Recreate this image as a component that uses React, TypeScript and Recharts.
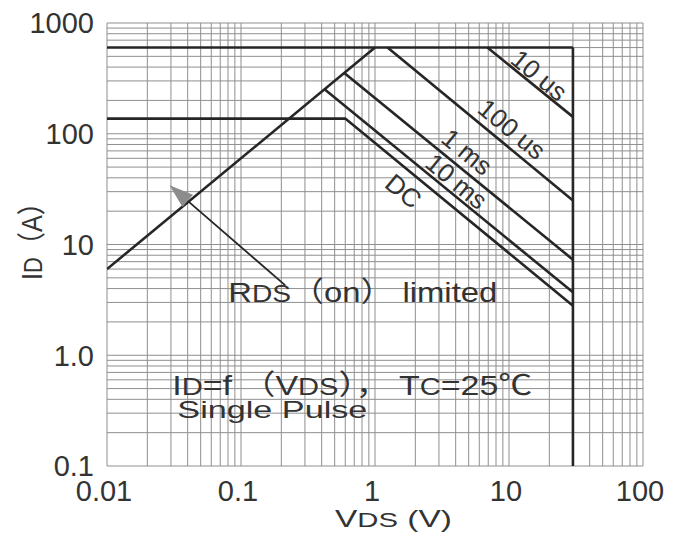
import React from 'react';
import {
  ComposedChart,
  Line,
  XAxis,
  YAxis,
  CartesianGrid,
  ReferenceDot,
  ReferenceLine,
} from 'recharts';

// Safe operating area boundaries: VDS in volts (v), ID in amperes (i)
const rdsOnLimit = [{ v: 0.01, i: 6 }, { v: 1.0, i: 600 }];
const currentLimit = [{ v: 0.01, i: 600 }, { v: 30, i: 600 }];
const voltageLimit = [{ v: 30, i: 600 }, { v: 30, i: 0.1 }];
const pulse10us = [{ v: 6.9, i: 600 }, { v: 30, i: 142 }];
const pulse100us = [{ v: 1.24, i: 600 }, { v: 30, i: 25 }];
const pulse1ms = [{ v: 0.59, i: 354 }, { v: 30, i: 7.3 }];
const pulse10ms = [{ v: 0.42, i: 252 }, { v: 30, i: 3.7 }];
const dcLimit = [{ v: 0.01, i: 137 }, { v: 0.6, i: 137 }, { v: 30, i: 2.8 }];

// Axis decades and their printed labels
const xDecades = [0.01, 0.1, 1, 10, 100];
const xTickLabels = ['0.01', '0.1', '1', '10', '100'];
const yDecades = [0.1, 1, 10, 100, 1000];
const yTickLabels = ['0.1', '1.0', '10', '100', '1000'];
const gridSteps = [1, 2, 3, 4, 5, 6, 7, 8, 9];

// Pulse-width captions placed along each boundary
const curveLabels = [
  { text: '10 us', v: 16.8, i: 337 },
  { text: '100 us', v: 10.5, i: 110 },
  { text: '1 ms', v: 4.86, i: 68.5 },
  { text: '10 ms', v: 4.05, i: 37.2 },
  { text: 'DC', v: 1.63, i: 30.3 },
];

// Pointer from the caption to the RDS(on) limit line
const arrowTail = { v: 0.214, i: 4.28 };
const arrowTip = { v: 0.0293, i: 34.3 };

// Caption anchors (left end of baseline)
const rdsCaptionAt = { v: 0.0804, i: 3.01 };
const conditionsAt = { v: 0.0307, i: 0.435 };
const pulseCaptionAt = { v: 0.0335, i: 0.27 };

const logGrid = (decades: number[]) => {
  const out: number[] = [];
  decades.slice(0, -1).forEach((d) => gridSteps.forEach((s) => out.push(d * s)));
  out.push(decades[decades.length - 1]);
  return out;
};
const xGridTicks = logGrid(xDecades);
const yGridTicks = logGrid(yDecades);

const INK = '#262626';
const TEXT = '#333333';
const FONT = '"Liberation Sans", Arial, "Noto Sans CJK SC", sans-serif';
const SLOPE_ANGLE = 39.6;

const decadeIndex = (decades: number[], value: number) =>
  decades.findIndex((d) => Math.abs(Math.log10(d) - Math.log10(value)) < 1e-6);

const renderXTick = (props: any) => {
  const { x, y, payload } = props;
  const idx = decadeIndex(xDecades, payload.value);
  if (idx < 0) return <g />;
  return (
    <text x={x - 3} y={y} dy="0.72em" textAnchor="middle" fontSize={29} fill={TEXT} fontFamily={FONT}>
      {xTickLabels[idx]}
    </text>
  );
};

const renderYTick = (props: any) => {
  const { x, y, payload } = props;
  const idx = decadeIndex(yDecades, payload.value);
  if (idx < 0) return <g />;
  return (
    <text x={x} y={y} dy="0.36em" textAnchor="end" fontSize={29} fill={TEXT} fontFamily={FONT}>
      {yTickLabels[idx]}
    </text>
  );
};

const renderXTitle = (props: any) => {
  const vb = props.viewBox || { x: 107, y: 466, width: 536, height: 74 };
  return (
    <text
      x={vb.x + 228}
      y={vb.y + 61}
      textLength={117}
      lengthAdjust="spacingAndGlyphs"
      fill={TEXT}
      fontFamily={FONT}
    >
      <tspan fontSize={24}>V</tspan>
      <tspan fontSize={21}>DS</tspan>
      <tspan fontSize={24}> (V)</tspan>
    </text>
  );
};

const renderYTitle = (props: any) => {
  const vb = props.viewBox || { x: 0, y: 23, width: 107, height: 443 };
  const x = vb.x + 41.5;
  const y = vb.y + 212;
  return (
    <text
      x={x}
      y={y}
      transform={`rotate(-90 ${x} ${y})`}
      textAnchor="middle"
      textLength={90}
      lengthAdjust="spacingAndGlyphs"
      fill={TEXT}
      fontFamily={FONT}
    >
      <tspan fontSize={29}>I</tspan>
      <tspan fontSize={25}>D</tspan>
      <tspan fontSize={29}>（A）</tspan>
    </text>
  );
};

const curveLabelShape = (text: string) => (props: any) => {
  const { cx, cy } = props;
  return (
    <text
      x={cx}
      y={cy}
      transform={`rotate(${SLOPE_ANGLE} ${cx} ${cy})`}
      textAnchor="middle"
      dominantBaseline="central"
      fontSize={26}
      fill={TEXT}
      fontFamily={FONT}
    >
      {text}
    </text>
  );
};

const arrowShape = (props: any) => {
  const { x1, y1, x2, y2 } = props;
  const dx = x2 - x1;
  const dy = y2 - y1;
  const len = Math.hypot(dx, dy) || 1;
  const ux = dx / len;
  const uy = dy / len;
  const head = 24;
  const half = 8;
  const bx = x2 - ux * head;
  const by = y2 - uy * head;
  return (
    <g>
      <line x1={x1} y1={y1} x2={bx} y2={by} stroke={INK} strokeWidth={1.8} />
      <polygon
        points={`${x2},${y2} ${bx - uy * half},${by + ux * half} ${bx + uy * half},${by - ux * half}`}
        fill="#8c8c8c"
      />
    </g>
  );
};

const rdsCaption = (props: any) => {
  const { cx, cy } = props;
  return (
    <text x={cx} y={cy} textLength={269} lengthAdjust="spacingAndGlyphs" fill={TEXT} fontFamily={FONT}>
      <tspan fontSize={28}>R</tspan>
      <tspan fontSize={24}>DS</tspan>
      <tspan fontSize={28}>（on） limited</tspan>
    </text>
  );
};

const conditionsCaption = (props: any) => {
  const { cx, cy } = props;
  return (
    <text x={cx} y={cy} textLength={360} lengthAdjust="spacingAndGlyphs" fill={TEXT} fontFamily={FONT}>
      <tspan fontSize={28}>I</tspan>
      <tspan fontSize={24}>D</tspan>
      <tspan fontSize={28}>=f （V</tspan>
      <tspan fontSize={24}>DS</tspan>
      <tspan fontSize={28}>），  T</tspan>
      <tspan fontSize={24}>C</tspan>
      <tspan fontSize={28}>=25℃</tspan>
    </text>
  );
};

const pulseCaption = (props: any) => {
  const { cx, cy } = props;
  return (
    <text
      x={cx}
      y={cy}
      textLength={190}
      lengthAdjust="spacingAndGlyphs"
      fontSize={24}
      fill={TEXT}
      fontFamily={FONT}
    >
      Single Pulse
    </text>
  );
};

const boundaries = [
  { key: 'rds', data: rdsOnLimit },
  { key: 'current', data: currentLimit },
  { key: 'voltage', data: voltageLimit },
  { key: 'p10us', data: pulse10us },
  { key: 'p100us', data: pulse100us },
  { key: 'p1ms', data: pulse1ms },
  { key: 'p10ms', data: pulse10ms },
  { key: 'dc', data: dcLimit },
];

export default function App() {
  return (
    <div style={{ position: 'absolute', left: 0, top: 0, width: 681, height: 540, background: '#ffffff' }}>
      <ComposedChart width={681} height={540} margin={{ top: 23, right: 38, bottom: 0, left: 0 }}>
        <CartesianGrid stroke="#8f8f8f" strokeWidth={1} />
        <XAxis
          dataKey="v"
          type="number"
          scale="log"
          domain={[0.01, 100]}
          ticks={xGridTicks}
          interval={0}
          allowDataOverflow
          tickLine={false}
          axisLine={false}
          height={74}
          tickMargin={8}
          tick={renderXTick}
          label={renderXTitle}
        />
        <YAxis
          type="number"
          scale="log"
          domain={[0.1, 1000]}
          ticks={yGridTicks}
          interval={0}
          allowDataOverflow
          tickLine={false}
          axisLine={false}
          width={107}
          tickMargin={7}
          tick={renderYTick}
          label={renderYTitle}
        />
        {boundaries.map((b) => (
          <Line
            key={b.key}
            data={b.data}
            dataKey="i"
            stroke={INK}
            strokeWidth={2.6}
            dot={false}
            activeDot={false}
            isAnimationActive={false}
          />
        ))}
        {curveLabels.map((c) => (
          <ReferenceDot key={c.text} x={c.v} y={c.i} r={0} shape={curveLabelShape(c.text)} />
        ))}
        <ReferenceLine
          segment={[
            { x: arrowTail.v, y: arrowTail.i },
            { x: arrowTip.v, y: arrowTip.i },
          ]}
          shape={arrowShape}
        />
        <ReferenceDot x={rdsCaptionAt.v} y={rdsCaptionAt.i} r={0} shape={rdsCaption} />
        <ReferenceDot x={conditionsAt.v} y={conditionsAt.i} r={0} shape={conditionsCaption} />
        <ReferenceDot x={pulseCaptionAt.v} y={pulseCaptionAt.i} r={0} shape={pulseCaption} />
      </ComposedChart>
    </div>
  );
}
